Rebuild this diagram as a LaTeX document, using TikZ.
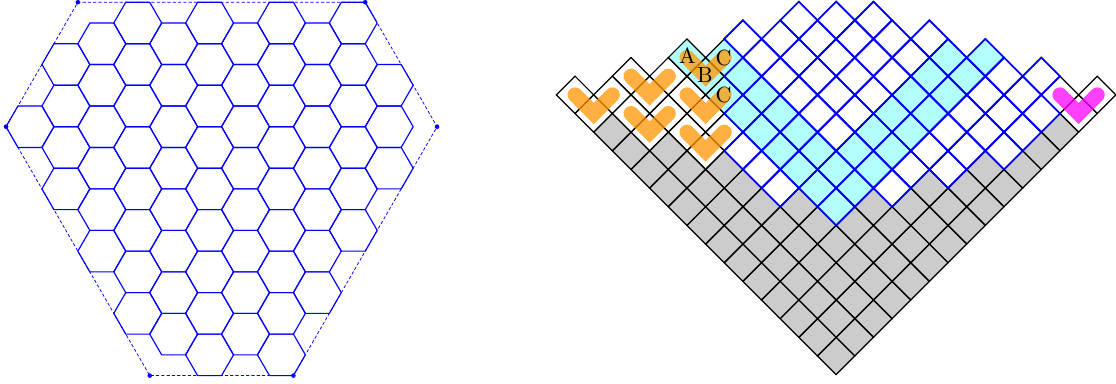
\documentclass[tikz,border=0pt]{standalone}
\definecolor{hexblue}{rgb}{0,0,1}
\definecolor{cellgray}{gray}{0.8}
\definecolor{cellcyan}{rgb}{0.7,1,1}
\definecolor{chevorange}{rgb}{1,0.59,0}
\definecolor{chevmagenta}{rgb}{1,0,1}
\tikzset{
  hexline/.style={draw=hexblue,line width=1.15pt,line join=round},
  hexdash/.style={draw=hexblue,line width=0.75pt,dash pattern=on 3.2pt off 2.1pt},
  hexdot/.style={fill=hexblue},
  blackcell/.style={draw=black,line width=1.2pt,line join=miter},
  bluecell/.style={draw=hexblue,line width=1.7pt,line join=miter},
  chev/.style={line width=15pt,line cap=round,line join=miter,opacity=0.75},
  lbl/.style={inner sep=0pt,font=\fontsize{10}{10}\selectfont,scale=2.2}
}
\def\Plist{{15,16,15,16,17,16,17,18,17,18,19,18,19,20,19,20,19,20,19,18,19,18,17,18,17,16,17,16,15,16,15}}
\def\Qlist{{13,12,13,14,13,12,13,12,11,12,11,10,9,10,9,8,9,10,9,10,11,10,11,12,11,12,13,14,13,12,13}}
\newcommand{\lx}[1]{(556.4+18.65*(#1))}
\newcommand{\ly}[1]{(374.6-18.65*(#1))}
% diamond with centre at lattice point (k,c)
\newcommand{\cellat}[3][]{%
  \path[#1] ({\lx{#2}},{\ly{#3+1}}) -- ({\lx{#2+1}},{\ly{#3}}) -- ({\lx{#2}},{\ly{#3-1}}) -- ({\lx{#2-1}},{\ly{#3}}) -- cycle;}
\newcommand{\chevron}[7]{%
  \draw[chev,draw=#1] ({\lx{#2}},{\ly{#3}}) -- ({\lx{#4}},{\ly{#5}}) -- ({\lx{#6}},{\ly{#7}});}
\begin{document}
\begin{tikzpicture}[x=1pt,y=-1pt]
\useasboundingbox (0,0) rectangle (1116,383);
% ---------- outer hexagon
\coordinate (h1) at (6,126.7);
\coordinate (h2) at (77.85,2.26);
\coordinate (h3) at (365.25,2.26);
\coordinate (h4) at (437.1,126.7);
\coordinate (h5) at (293.4,375.6);
\coordinate (h6) at (149.75,375.6);
\coordinate (hc) at (221.55,168.2);
\draw[hexdash] (h1) -- (h2) -- (h3) -- (h4) -- (h5) -- (h6) -- cycle;
% ---------- honeycomb
\foreach \i/\a/\b in {0/0/0,1/-3/3,2/-4/6,3/-5/9,4/-4/10,5/-5/11,6/-4/10,7/-5/11,8/-4/8,9/-5/5,10/-2/2}{
  \pgfmathsetmacro\cxx{29.95+35.925*\i}
  \pgfmathtruncatemacro\cnt{(\b-\a)/2}
  \foreach \m in {0,...,\cnt}{
    \pgfmathsetmacro\cyy{126.7+20.74*(\a+2*\m)}
    \draw[hexline] (\cxx-23.95,\cyy) -- (\cxx-11.975,\cyy-20.74) -- (\cxx+11.975,\cyy-20.74)
      -- (\cxx+23.95,\cyy) -- (\cxx+11.975,\cyy+20.74) -- (\cxx-11.975,\cyy+20.74) -- cycle;
  }
}
\foreach \p in {h1,h2,h3,h4,h5,h6}{\fill[hexdot] (\p) circle (2.3pt);}
\fill[hexdot] (hc) circle (1.3pt);
% ---------- cyan cells
\foreach \k/\c in {7/17,8/16,9/17,9/15,10/16,11/15,12/14,13/13,14/12,15/11,16/10,
  10/14,11/13,12/12,13/11,14/10,15/9,
  17/11,18/12,19/13,20/14,21/15,22/16,23/17,
  16/12,17/13,18/14,19/15,20/16,21/17}{
  \cellat[fill=cellcyan]{\k}{\c}
}
% ---------- gray cells, then black, then blue grid
\foreach \i in {0,...,14}{\foreach \j in {0,...,14}{
  \pgfmathtruncatemacro\k{15+\j-\i}
  \pgfmathtruncatemacro\c{\i+\j+1}
  \pgfmathtruncatemacro\q{\Qlist[\k]}
  \ifnum\numexpr\c+1\relax>\q\relax\else \cellat[fill=cellgray]{\k}{\c}\fi
}}
\foreach \i in {0,...,14}{\foreach \j in {0,...,14}{
  \pgfmathtruncatemacro\k{15+\j-\i}
  \pgfmathtruncatemacro\c{\i+\j+1}
  \pgfmathtruncatemacro\p{\Plist[\k]}
  \ifnum\numexpr\c+1\relax>\p\relax\else \cellat[blackcell]{\k}{\c}\fi
}}
\foreach \i in {0,...,14}{\foreach \j in {0,...,14}{
  \pgfmathtruncatemacro\k{15+\j-\i}
  \pgfmathtruncatemacro\c{\i+\j+1}
  \pgfmathtruncatemacro\p{\Plist[\k]}
  \pgfmathtruncatemacro\q{\Qlist[\k]}
  \ifnum\k<10\relax\else\ifnum\k>26\relax\else
    \ifnum\numexpr\c+1\relax>\p\relax\else
      \ifnum\numexpr\c+1\relax>\q\relax \cellat[bluecell]{\k}{\c}\fi
    \fi
  \fi\fi
}}
% ---------- chevrons
\chevron{chevorange}{1}{15}{2}{14}{3}{15}
\chevron{chevorange}{4}{16}{5}{15}{6}{16}
\chevron{chevorange}{4}{14}{5}{13}{6}{14}
\chevron{chevorange}{7}{15}{8}{14}{9}{15}
\chevron{chevorange}{7}{13}{8}{12}{9}{13}
\chevron{chevorange}{7}{17}{8}{16}{9}{17}
\chevron{chevmagenta}{27}{15}{28}{14}{29}{15}
% ---------- labels
\node[lbl] (la) at (687.3,56) {A};
\node[lbl] (lb) at (705,75) {B};
\node[lbl] (lc) at (723.5,58.3) {C};
\node[lbl] (ld) at (723.5,95) {C};
\end{tikzpicture}
\end{document}
